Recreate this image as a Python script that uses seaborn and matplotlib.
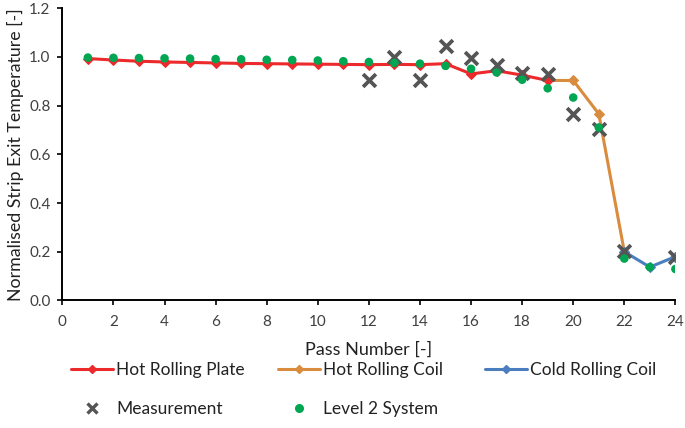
import matplotlib
matplotlib.use("Agg")
import matplotlib.pyplot as plt
from matplotlib.lines import Line2D
import seaborn as sns

# ---- data ----
plate_pass = [1, 2, 3, 4, 5, 6, 7, 8, 9, 10, 11, 12, 13, 14, 15, 16, 17, 18, 19]
plate_val = [0.993, 0.987, 0.982, 0.979, 0.977, 0.975, 0.973, 0.972, 0.971, 0.970,
             0.969, 0.968, 0.969, 0.968, 0.972, 0.930, 0.943, 0.925, 0.903]
coil_pass = [19, 20, 21, 22]
coil_val = [0.903, 0.903, 0.766, 0.200]
cold_pass = [22, 23, 24]
cold_val = [0.200, 0.137, 0.180]
meas_pass = [12, 13, 14, 15, 16, 17, 18, 19, 20, 21, 22, 24]
meas_val = [0.903, 1.000, 0.903, 1.045, 0.995, 0.968, 0.935, 0.931, 0.766, 0.705, 0.203, 0.179]
l2_pass = list(range(1, 25))
l2_val = [0.997, 0.996, 0.995, 0.994, 0.993, 0.991, 0.990, 0.988, 0.987, 0.985,
          0.982, 0.979, 0.975, 0.972, 0.963, 0.951, 0.936, 0.906, 0.871, 0.833,
          0.710, 0.172, 0.137, 0.129]
x_ticks = list(range(0, 25, 2))
y_ticks = [0.0, 0.2, 0.4, 0.6, 0.8, 1.0, 1.2]

labels = ["Hot Rolling Plate", "Hot Rolling Coil", "Cold Rolling Coil", "Measurement", "Level 2 System"]
c_plate, c_coil, c_cold = "#EC2A2C", "#D98B3E", "#4A7EBF"
c_meas, c_l2 = "#555555", "#00A651"

sns.set_theme(style="ticks")
plt.rcParams["font.family"] = ["Lato", "DejaVu Sans"]

fig = plt.figure(figsize=(6.85, 4.28), dpi=100)
ax = fig.add_axes([0.091, 0.298, 0.895, 0.683])

lw = 2.2
ms = 5.5
sns.lineplot(x=plate_pass, y=plate_val, ax=ax, color=c_plate, lw=lw, marker="D",
             markersize=ms, markeredgecolor=c_plate, zorder=3)
sns.lineplot(x=coil_pass, y=coil_val, ax=ax, color=c_coil, lw=lw, marker="D",
             markersize=ms, markeredgecolor=c_coil, zorder=2)
sns.lineplot(x=cold_pass, y=cold_val, ax=ax, color=c_cold, lw=lw, marker="D",
             markersize=ms, markeredgecolor=c_cold, zorder=2)
sns.scatterplot(x=meas_pass, y=meas_val, ax=ax, color=c_meas, marker="x", s=85,
                linewidth=2.7, zorder=4)
sns.scatterplot(x=l2_pass, y=l2_val, ax=ax, color=c_l2, marker="o", s=38,
                edgecolor="none", zorder=5)

ax.set_xlim(0, 24)
ax.set_ylim(0, 1.2)
ax.set_xticks(x_ticks)
ax.set_yticks(y_ticks)
ax.set_yticklabels([f"{v:.1f}" for v in y_ticks])
ax.tick_params(axis="both", labelsize=11, labelcolor="#404040", color="black",
               length=3.5, width=1.2, direction="out")
ax.tick_params(axis="x", pad=7)
ax.tick_params(axis="y", pad=5)
for s in ["left", "bottom"]:
    ax.spines[s].set_color("black")
    ax.spines[s].set_linewidth(1.4)
sns.despine(ax=ax)
ax.set_xlabel("Pass Number [-]", fontsize=13, color="#222222", labelpad=9)
ax.set_ylabel("Normalised Strip Exit Temperature [-]", fontsize=12.8, color="#222222", labelpad=4)

fs = 12.5
col_handles = [
    [Line2D([], [], color=c_plate, lw=lw, marker="D", markersize=4),
     Line2D([], [], color=c_meas, lw=0, marker="x", markersize=7, mew=2.4)],
    [Line2D([], [], color=c_coil, lw=lw, marker="D", markersize=4),
     Line2D([], [], color=c_l2, lw=0, marker="o", markersize=5.5)],
    [Line2D([], [], color=c_cold, lw=lw, marker="D", markersize=4)],
]
col_labels = [[labels[0], labels[3]], [labels[1], labels[4]], [labels[2]]]
col_x = [71, 278, 485]
for h, l, x in zip(col_handles, col_labels, col_x):
    fig.legend(h, l, loc="upper left", bbox_to_anchor=(x / 685, 1 - 362 / 428),
               frameon=False, fontsize=fs, handlelength=2.4, handletextpad=0.2,
               labelspacing=1.35, labelcolor="#222222", borderpad=0, borderaxespad=0)

fig.savefig("out.png", dpi=100)
